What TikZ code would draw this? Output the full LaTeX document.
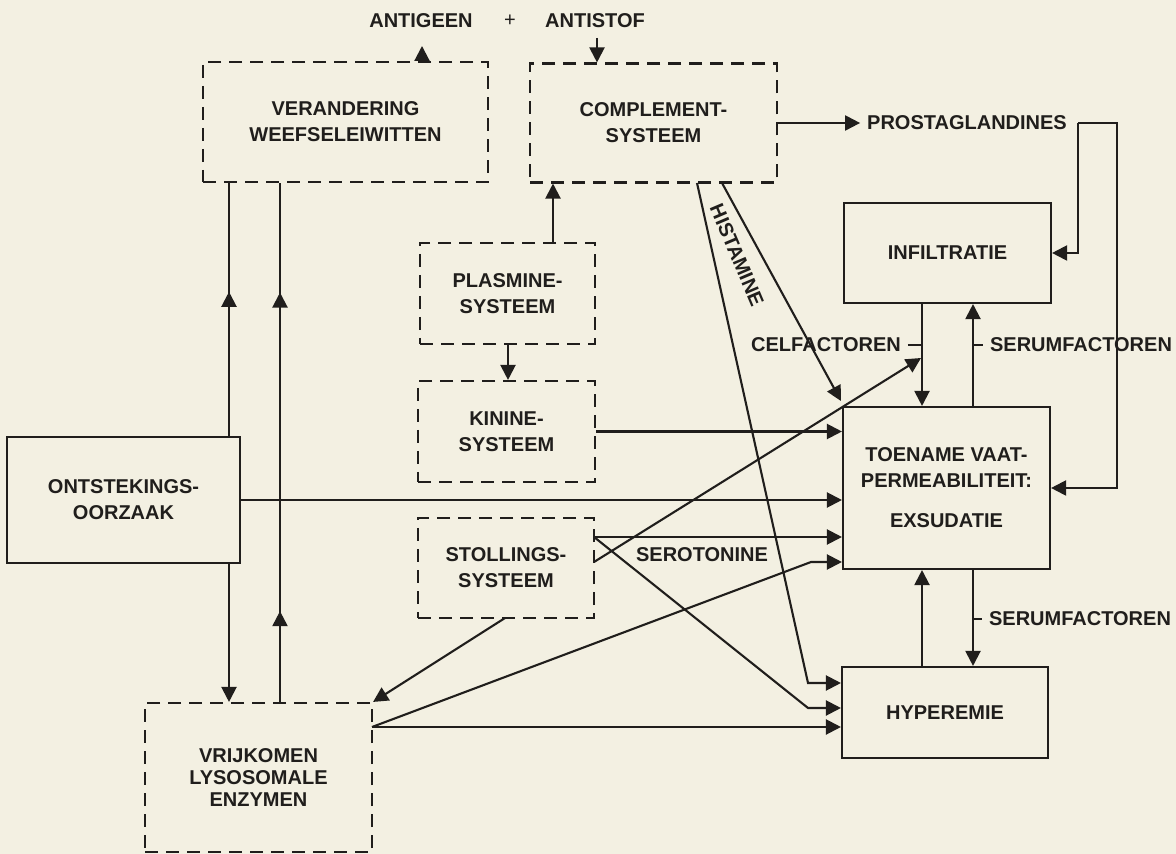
\documentclass[tikz,border=0pt]{standalone}
\usepackage{fontspec}
\setmainfont{Liberation Sans}
\usetikzlibrary{arrows.meta,decorations.markings}
\definecolor{paper}{RGB}{243,240,226}
\definecolor{ink}{RGB}{32,30,28}
\begin{document}
\begin{tikzpicture}[x=0.5pt,y=-0.5pt,
  every node/.style={font=\fontsize{10}{13}\selectfont\bfseries, text=ink, align=center},
  sbox/.style={draw=ink, line width=1.05pt, inner sep=0pt},
  dbox/.style={sbox, dash pattern=on 6.5pt off 4pt},
  conn/.style={draw=ink, line width=1.05pt},
  arr/.style={conn, -{Triangle[length=7.5pt,width=7.5pt]}},
  tip/.tip={Triangle[length=7.5pt,width=7.5pt]},
]
\fill[paper] (0,0) rectangle (1176,854);
\useasboundingbox (0,0) rectangle (1176,854);

% boxes
\node[dbox, minimum width=142.5pt, minimum height=60pt] (ver) at (345.5,122) {VERANDERING\\WEEFSELEIWITTEN};
\node[dbox, minimum width=123.5pt, minimum height=59.5pt] (comp) at (653.5,123) {COMPLEMENT-\\SYSTEEM};
\node[dbox, minimum width=87.5pt, minimum height=50.5pt] (plas) at (507.5,293.5) {PLASMINE-\\SYSTEEM};
\node[dbox, minimum width=88.5pt, minimum height=50.5pt] (kin) at (506.5,431.5) {KININE-\\SYSTEEM};
\node[dbox, minimum width=88pt, minimum height=50pt] (stol) at (506,568) {STOLLINGS-\\SYSTEEM};
\node[sbox, minimum width=116.5pt, minimum height=63pt] (ont) at (123.5,500) {ONTSTEKINGS-\\OORZAAK};
\node[dbox, minimum width=113.5pt, minimum height=74.5pt, font=\fontsize{10}{11}\selectfont\bfseries] (vrij) at (258.5,777.5) {VRIJKOMEN\\LYSOSOMALE\\ENZYMEN};
\node[sbox, minimum width=103.5pt, minimum height=50pt] (inf) at (947.5,253) {INFILTRATIE};
\node[sbox, minimum width=103.5pt, minimum height=81pt] (toe) at (946.5,488) {TOENAME VAAT-\\PERMEABILITEIT:\\[7pt]EXSUDATIE};
\node[sbox, minimum width=103pt, minimum height=45.5pt] (hyp) at (945,712.5) {HYPEREMIE};

% labels
\node (antigeen) at (421,21) {ANTIGEEN};
\node[font=\fontsize{10}{13}\selectfont] (plus) at (510,21) {+};
\node (antistof) at (595,21) {ANTISTOF};
\node (prost) at (967,123) {PROSTAGLANDINES};
\node[rotate=-67] (hist) at (737,255) {HISTAMINE};
\node (celf) at (826,345) {CELFACTOREN};
\node (serum1) at (1081,345) {SERUMFACTOREN};
\node (serum2) at (1080,619) {SERUMFACTOREN};
\node (sero) at (702,555) {SEROTONINE};

% helper coordinates
\coordinate (agtip) at (422,46);
\coordinate (asstart) at (597,38);
\coordinate (xpu) at (553,0);
\coordinate (xpd) at (508,0);
\coordinate (pc) at (1078,123);
\coordinate (pr) at (1117,123);
\coordinate (xl) at (922,0);
\coordinate (xr) at (973,0);
\coordinate (xa) at (229,0);
\coordinate (xb) at (280,0);
\coordinate (s1) at (594,537);
\coordinate (s2) at (594,562);
\coordinate (s3) at (505,618);
\coordinate (cft) at (921,358);
\coordinate (hk2) at (808,708);
\coordinate (c1) at (722,183);
\coordinate (c2) at (697,183);
\coordinate (hk1) at (808,683);
\coordinate (ctl) at (841,401);
\coordinate (v1) at (372,727);
\coordinate (vk) at (811,562);

% top
\draw[arr] (agtip |- ver.north) -- (agtip);
\draw[arr] (asstart) -- (asstart |- comp.north);
\draw[arr] (xpu |- plas.north) -- (xpu |- comp.south);
\draw[arr] (xpd |- plas.south) -- (xpd |- kin.north);
\draw[arr] (comp.east) -- (prost.west);
\draw[arr] (pc) -- (pc |- inf.east) -- (inf.east);
\draw[arr] (pc) -- (pr) -- (pr |- toe.east) -- (toe.east);

% right column
\draw[arr] (xl |- inf.south) -- (xl |- toe.north);
\draw[arr] (xr |- toe.north) -- (xr |- inf.south);
\draw[arr] (xr |- toe.south) -- (xr |- hyp.north);
\draw[arr] (xl |- hyp.north) -- (xl |- toe.south);
\draw[conn] (celf.east) -- (xl |- celf.east);
\draw[conn] (xr |- serum1.west) -- (serum1.west);
\draw[conn] (xr |- serum2.west) -- (serum2.west);

% into toename / hyperemie
\draw[arr] (kin.east) -- (kin.east -| toe.west);
\draw[arr] (ont.east) -- (ont.east -| toe.west);
\draw[arr] (s1) -- (s1 -| toe.west);
\draw[arr] (s1) -- (hk2) -- (hk2 -| hyp.west);
\draw[arr] (s2) -- (cft);
\draw[arr] (c1) -- (ctl);
\draw[arr] (c2) -- (hk1) -- (hk1 -| hyp.west);
\draw[arr] (v1) -- (vk) -- (vk -| toe.west);
\draw[arr] (v1) -- (v1 -| hyp.west);
\draw[arr] (s3) -- (vrij.north east);

% left verticals
\draw[conn, decoration={markings, mark=at position 0.57 with {\arrow{tip}}}, postaction=decorate] (xa |- ont.north) -- (xa |- ver.south);
\draw[arr] (xa |- ont.south) -- (xa |- vrij.north);
\draw[conn, decoration={markings, mark=at position 0.175 with {\arrow{tip}}, mark=at position 0.789 with {\arrow{tip}}}, postaction=decorate] (xb |- vrij.north) -- (xb |- ver.south);
\end{tikzpicture}
\end{document}
